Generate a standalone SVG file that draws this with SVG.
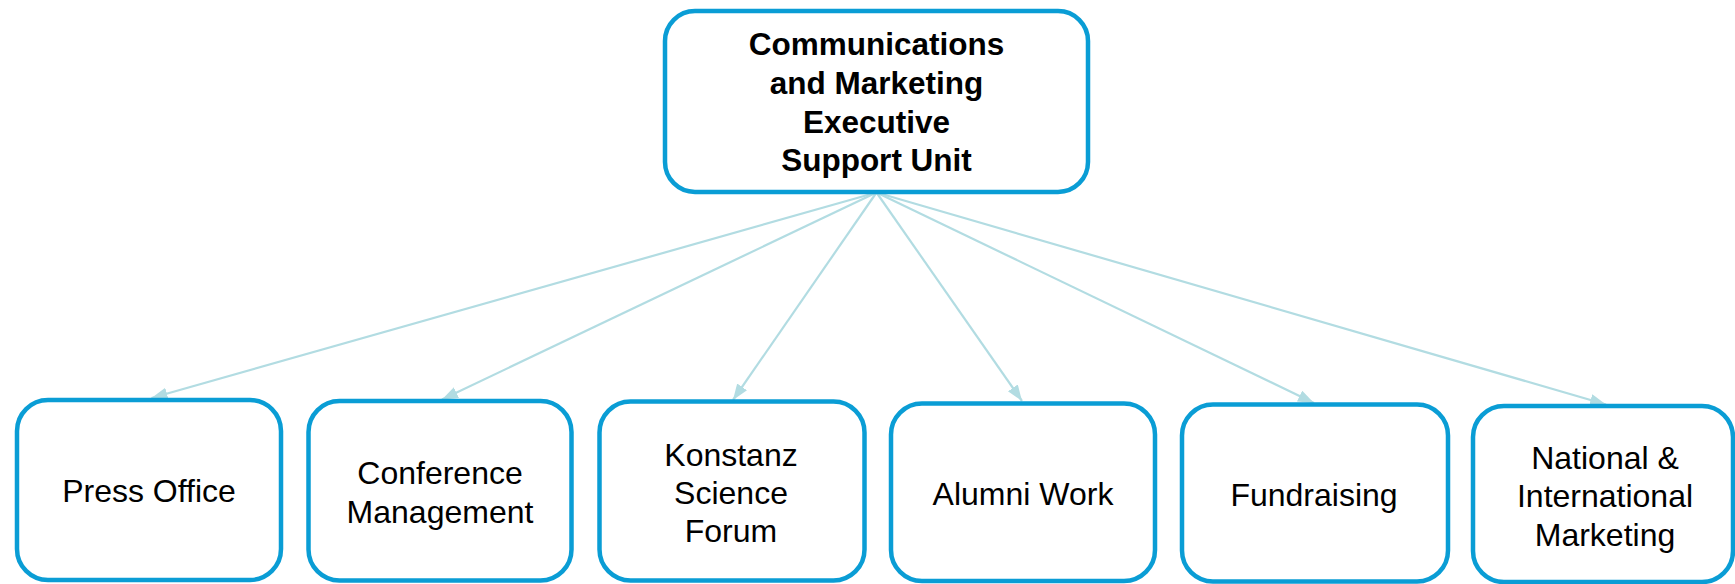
<svg xmlns="http://www.w3.org/2000/svg" width="1735" height="584" viewBox="0 0 1735 584">
<style>
.box{fill:#fff;stroke:#0a9dd5;stroke-width:4.5}
.t{font-family:"Liberation Sans",Arial,sans-serif;font-size:32px;fill:#000;text-anchor:middle}
.tb{font-family:"Liberation Sans",Arial,sans-serif;font-size:31.5px;font-weight:bold;fill:#000;text-anchor:middle}
.c{stroke:#b2dce2;stroke-width:2.2;fill:none;marker-end:url(#ah)}
</style>
<defs>
<marker id="ah" markerUnits="userSpaceOnUse" markerWidth="18" markerHeight="14" refX="16" refY="6" orient="auto">
<path d="M0,0 L16,6 L0,12 Z" fill="#b2dce2"/>
</marker>
</defs>
<rect width="1735" height="584" fill="#fff"/>
<g id="connectors">
<line class="c" x1="876.5" y1="192.5" x2="151.5" y2="398"/>
<line class="c" x1="876.5" y1="192.5" x2="442" y2="399.5"/>
<line class="c" x1="876.5" y1="192.5" x2="733" y2="400"/>
<line class="c" x1="876.5" y1="192.5" x2="1022" y2="401"/>
<line class="c" x1="876.5" y1="192.5" x2="1314" y2="403"/>
<line class="c" x1="876.5" y1="192.5" x2="1606" y2="404.5"/>
</g>
<g id="node-top">
<rect class="box" x="665" y="11" width="423" height="181" rx="30"/>
<text class="tb" x="876.5" y="55">Communications</text>
<text class="tb" x="876.5" y="94">and Marketing</text>
<text class="tb" x="876.5" y="133">Executive</text>
<text class="tb" x="876.5" y="171">Support Unit</text>
</g>
<g id="node-press">
<rect class="box" x="17" y="400" width="264" height="180" rx="31"/>
<text class="t" x="149" y="501.5">Press Office</text>
</g>
<g id="node-conference">
<rect class="box" x="308.5" y="401" width="263" height="179.5" rx="31"/>
<text class="t" x="440" y="484">Conference</text>
<text class="t" x="440" y="522.5">Management</text>
</g>
<g id="node-forum">
<rect class="box" x="599.5" y="401.5" width="265" height="179" rx="31"/>
<text class="t" x="731" y="466">Konstanz</text>
<text class="t" x="731" y="504">Science</text>
<text class="t" x="731" y="542">Forum</text>
</g>
<g id="node-alumni">
<rect class="box" x="891" y="403.5" width="264" height="177.5" rx="31"/>
<text class="t" x="1023" y="505">Alumni Work</text>
</g>
<g id="node-fundraising">
<rect class="box" x="1182" y="404.5" width="266" height="177" rx="31"/>
<text class="t" x="1314" y="506">Fundraising</text>
</g>
<g id="node-marketing">
<rect class="box" x="1473" y="406" width="260" height="176" rx="31"/>
<text class="t" x="1605" y="468.5">National &amp;</text>
<text class="t" x="1605" y="507">International</text>
<text class="t" x="1605" y="545.5">Marketing</text>
</g>
</svg>
